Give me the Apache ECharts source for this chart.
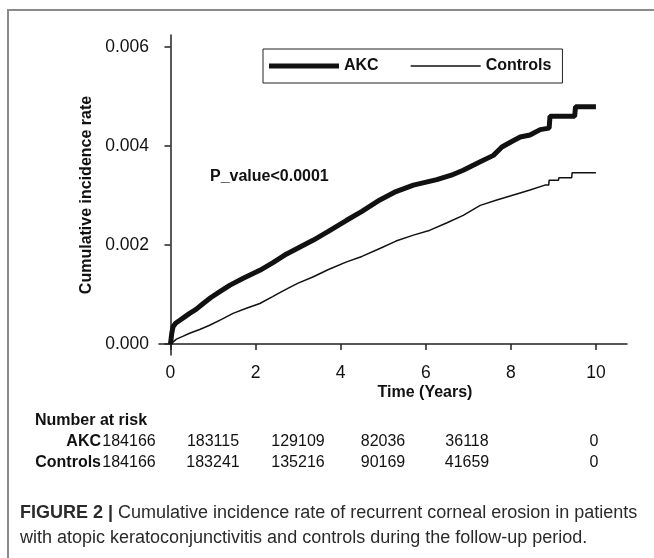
<!DOCTYPE html>
<html>
<head>
<meta charset="utf-8">
<script src="https://cdn.jsdelivr.net/npm/echarts@6/dist/echarts.min.js"></script>
<style>
  html, body { margin: 0; padding: 0; background: #fff; }
  #chart { width: 654px; height: 558px; }
</style>
</head>
<body>
<div id="chart"></div>
<script>
// time (years) / cumulative incidence
const akcTime = [0, 0.03, 0.06, 0.12, 0.22, 0.35, 0.45, 0.6, 0.77, 0.95, 1.16, 1.4, 1.71, 2.1, 2.4, 2.73, 3.0, 3.36, 3.7, 4.14, 4.5, 4.92, 5.3, 5.71, 6.26, 6.6, 6.88, 7.28, 7.59, 7.79, 8.0, 8.22, 8.45, 8.69, 8.9, 8.92, 9.5, 9.52, 10.0];
const akcRate = [0, 0.00022, 0.00035, 0.00042, 0.00048, 0.00056, 0.00062, 0.0007, 0.00082, 0.00094, 0.00106, 0.00119, 0.00133, 0.00149, 0.00164, 0.00182, 0.00194, 0.0021, 0.00227, 0.0025, 0.00268, 0.00291, 0.00308, 0.00321, 0.00332, 0.00341, 0.00351, 0.00368, 0.00381, 0.00398, 0.00408, 0.00418, 0.00422, 0.00433, 0.00436, 0.0046, 0.0046, 0.00479, 0.00479];
const ctrlTime = [0, 0.14, 0.3, 0.45, 0.7, 0.92, 1.2, 1.47, 1.8, 2.1, 2.4, 2.57, 2.77, 3.0, 3.36, 3.7, 4.14, 4.5, 4.92, 5.3, 5.71, 6.1, 6.5, 6.88, 7.28, 7.67, 8.14, 8.45, 8.8, 8.89, 8.9, 9.12, 9.13, 9.43, 9.44, 10.0];
const ctrlRate = [0, 0.0001, 0.00016, 0.00022, 0.0003, 0.00038, 0.0005, 0.00062, 0.00073, 0.00082, 0.00096, 0.00104, 0.00113, 0.00123, 0.00136, 0.0015, 0.00166, 0.00177, 0.00193, 0.00208, 0.0022, 0.0023, 0.00245, 0.0026, 0.0028, 0.00291, 0.00303, 0.00311, 0.00321, 0.00321, 0.00331, 0.00331, 0.00336, 0.00336, 0.00346, 0.00346];

const xTicks = [0, 2, 4, 6, 8, 10];
const yTicks = [0, 0.002, 0.004, 0.006];

const riskGroups = ['AKC', 'Controls'];
const riskAKC = ['184166', '183115', '129109', '82036', '36118', '0'];
const riskCtrl = ['184166', '183241', '135216', '90169', '41659', '0'];

const FONT = '"Liberation Sans", Arial, sans-serif';
// table column centres (px) as laid out in the figure
const colX = [129, 213, 298, 383, 467, 594];

function pairs(t, v) {
  return t.map((x, i) => [x, v[i]]);
}

let chart = echarts.init(document.getElementById('chart'));

function riskRows() {
  const out = [];
  const rows = [riskAKC, riskCtrl];
  const ys = [442, 463];
  rows.forEach((row, r) => {
    out.push({
      type: 'text', x: 101, y: ys[r],
      style: { text: riskGroups[r], font: 'bold 16px ' + FONT, fill: '#111', align: 'right', verticalAlign: 'middle' }
    });
    row.forEach((val, i) => {
      out.push({
        type: 'text', x: colX[i], y: ys[r],
        style: { text: val, font: '16px ' + FONT, fill: '#111', align: 'center', verticalAlign: 'middle' }
      });
    });
  });
  return out;
}

const option = {
  backgroundColor: '#fff',
  animation: false,
  grid: { left: 159, right: 27, top: 35, bottom: 203 },
  legend: {
    data: [
      { name: 'AKC', icon: 'path://M0,0H70V5H0Z' },
      { name: 'Controls', icon: 'path://M0,0H70V1.4H0Z' }
    ],
    left: 263, top: 49,
    orient: 'horizontal',
    borderColor: '#222', borderWidth: 1,
    padding: [9, 11, 9, 6],
    itemWidth: 70, itemHeight: 14, itemGap: 32,
    symbolKeepAspect: true,
    itemStyle: { color: '#111' },
    textStyle: { fontFamily: FONT, fontWeight: 'bold', fontSize: 16, color: '#111' }
  },
  xAxis: {
    type: 'value', min: -0.27, max: 10.73,
    axisLine: { lineStyle: { color: '#222', width: 1.5 } },
    axisTick: { customValues: xTicks, length: 6, lineStyle: { color: '#222', width: 1.5 } },
    axisLabel: { customValues: xTicks, fontFamily: FONT, fontSize: 17.5, color: '#111', margin: 9 },
    splitLine: { show: false }
  },
  yAxis: {
    type: 'value', min: -0.00022, max: 0.00624,
    name: 'Cumulative incidence rate',
    nameLocation: 'middle', nameGap: 63,
    nameTextStyle: { fontFamily: FONT, fontWeight: 'bold', fontSize: 16, color: '#111' },
    axisLine: { show: true, lineStyle: { color: '#222', width: 1.5 } },
    axisTick: { show: true, customValues: yTicks, length: 6, lineStyle: { color: '#222', width: 1.5 } },
    axisLabel: {
      customValues: yTicks, fontFamily: FONT, fontSize: 17.5, color: '#111', margin: 10,
      formatter: v => v.toFixed(3)
    },
    splitLine: { show: false }
  },
  series: [
    {
      name: 'AKC', type: 'line', symbol: 'none',
      data: pairs(akcTime, akcRate),
      lineStyle: { color: '#111', width: 5 },
      itemStyle: { color: '#111' }
    },
    {
      name: 'Controls', type: 'line', symbol: 'none',
      data: pairs(ctrlTime, ctrlRate),
      lineStyle: { color: '#111', width: 1.5 },
      itemStyle: { color: '#111' }
    }
  ]
};
chart.setOption(option);

chart.setOption({
  graphic: [
    {
      type: 'rect', shape: { x: 8, y: 10, width: 800, height: 800 },
      style: { fill: 'none', stroke: '#8a8a8a', lineWidth: 2 }, silent: true
    },
    {
      type: 'text', left: 210, top: 169,
      style: { text: 'P_value<0.0001', font: 'bold 16px ' + FONT, fill: '#111' }
    },
    {
      type: 'text', x: 425, y: 393,
      style: { text: 'Time (Years)', font: 'bold 16px ' + FONT, fill: '#111', align: 'center', verticalAlign: 'middle' }
    },
    {
      type: 'text', x: 35, y: 421,
      style: { text: 'Number at risk', font: 'bold 16px ' + FONT, fill: '#111', verticalAlign: 'middle' }
    }
  ].concat(riskRows()).concat([
    {
      type: 'text', left: 20, top: 501,
      style: {
        text: '{b|FIGURE 2 |} Cumulative incidence rate of recurrent corneal erosion in patients\nwith atopic keratoconjunctivitis and controls during the follow-up period.',
        font: '18px ' + FONT, fill: '#2a2a2a', lineHeight: 25,
        rich: { b: { fontFamily: FONT, fontWeight: 'bold', fontSize: 18, fill: '#2a2a2a' } }
      }
    }
  ])
});

window.addEventListener('resize', function () { chart.resize(); });
</script>
</body>
</html>
